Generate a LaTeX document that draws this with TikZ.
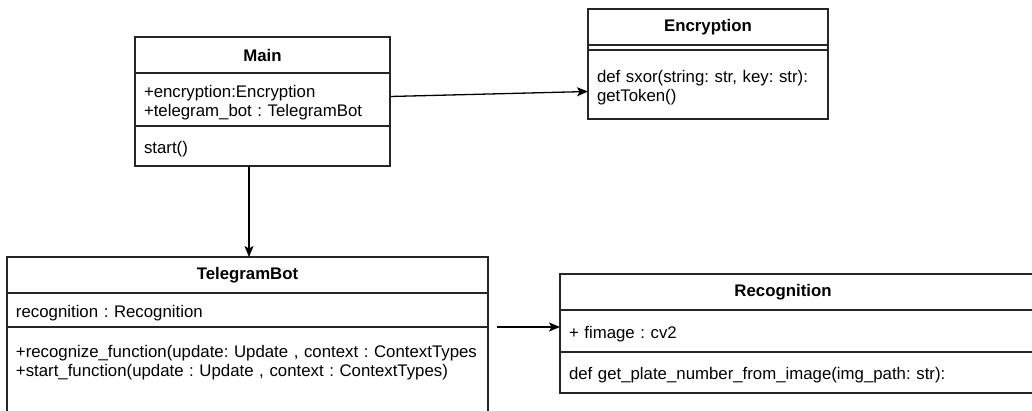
\documentclass[tikz,border=0pt]{standalone}
\usepackage{fontspec}
\setmainfont{Liberation Sans}
\usepackage{tikz}
\usetikzlibrary{arrows.meta, positioning, calc}

\begin{document}
\frenchspacing
\begin{tikzpicture}[
  x=1pt, y=-1pt,
  font=\fontsize{16.8}{19.5}\selectfont,
  umlhead/.style={rectangle, draw=black!85, line width=1.3pt, outer sep=0pt,
                  minimum height=36pt, inner sep=0pt, anchor=north west,
                  font=\fontsize{16.8}{19.5}\selectfont\bfseries},
  umlpart/.style={rectangle, draw=black!85, line width=1.3pt, outer sep=0pt,
                  align=left, inner xsep=9pt, inner ysep=0pt, text height=18pt},
  arr/.style={-{Stealth[length=11pt, width=9pt, inset=2.5pt]}, line width=1.3pt},
]
\useasboundingbox (0,0) rectangle (1032,410);

%% Main
\node[umlhead, minimum width=255pt] (main) at (135,37) {Main};
\node[umlpart, text width=237pt, minimum height=53pt, below=0pt of main] (main-attr)
      {+encryption:Encryption\\+telegram\_bot : TelegramBot};
\node[umlpart, text width=237pt, minimum height=40pt, below=0pt of main-attr] (main-ops)
      {start()};

%% Encryption
\node[umlhead, minimum width=240pt] (enc) at (588,9) {Encryption};
\node[umlpart, text height=0pt, minimum width=240pt, minimum height=5pt, below=0pt of enc] (enc-attr) {};
\node[umlpart, text width=222pt, minimum height=69pt, below=0pt of enc-attr] (enc-ops)
      {def sxor(string: str, key: str):\\getToken()};

%% TelegramBot (runs off the bottom)
\node[umlhead, minimum width=481pt] (tg) at (7,257) {TelegramBot};
\node[umlpart, text width=463pt, minimum height=34pt, below=0pt of tg] (tg-attr)
      {recognition : Recognition};
\node[umlpart, text width=463pt, text height=30pt, text depth=90pt, below=0pt of tg-attr] (tg-ops)
      {\mbox{+recognize\_function(update: Update , context : ContextTypes}\\
       \mbox{+start\_function(update : Update , context : ContextTypes)}};

%% Recognition (runs off the right)
\node[umlhead, minimum width=500pt] (rec) at (560,274) {Recognition\hspace*{54pt}};
\node[umlpart, text width=482pt, minimum height=42pt, below=0pt of rec] (rec-attr)
      {+ fimage : cv2};
\node[umlpart, text width=482pt, minimum height=41pt, below=0pt of rec-attr] (rec-ops)
      {def get\_plate\_number\_from\_image(img\_path: str):};

%% Associations
\draw[arr] ($(main-attr.east)+(0,-3)$) -- ($(enc-ops.west)+(0,7)$);
\draw[arr] ($(main-ops.south)+(-13.5,0)$) coordinate (drop) -- (drop |- tg.north);
\draw[arr] ($(tg-attr.south east)+(9,0)$) coordinate (link) -- (link -| rec-attr.west);

\end{tikzpicture}
\end{document}
